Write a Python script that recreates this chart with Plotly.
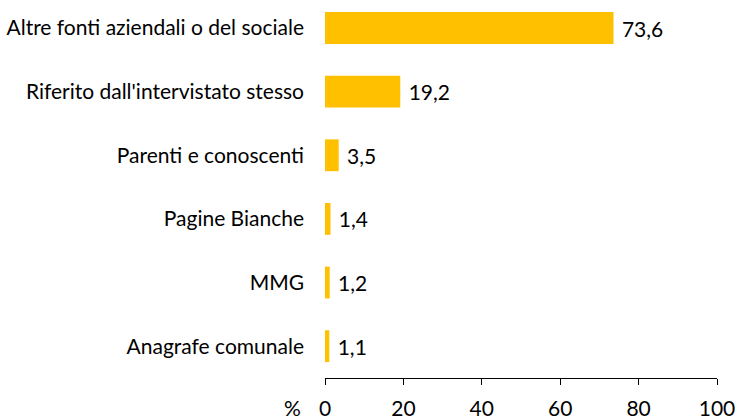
import plotly.graph_objects as go

categories = ["Anagrafe comunale", "MMG", "Pagine Bianche", "Parenti e conoscenti",
              "Riferito dall'intervistato stesso", "Altre fonti aziendali o del sociale"]
values = [1.1, 1.2, 1.4, 3.5, 19.2, 73.6]
x_ticks = [0, 20, 40, 60, 80, 100]

labels = [" " + f"{v:.1f}".replace(".", ",") for v in values]

FONT = "Lato"
FS = 21
fig = go.Figure(go.Bar(
    x=values, y=categories, orientation="h",
    marker=dict(color="#FFC000", line=dict(width=0)),
    width=0.5,
    text=labels, textposition="outside", cliponaxis=False,
    textfont=dict(family=FONT, size=FS, color="#000000"),
))
fig.update_layout(
    width=741, height=419,
    margin=dict(l=325, r=24, t=0, b=41, autoexpand=False),
    paper_bgcolor="white", plot_bgcolor="white",
    showlegend=False,
    font=dict(family=FONT, size=FS, color="#000000"),
    xaxis=dict(range=[0, 100], tickvals=x_ticks, ticks="outside", ticklen=6,
               tickcolor="#000000", showline=True, linecolor="#000000", linewidth=1,
               showgrid=False, zeroline=False, ticklabelstandoff=6, automargin=False,
               tickfont=dict(family=FONT, size=FS)),
    yaxis=dict(type="category", categoryorder="array", categoryarray=categories,
               range=[-0.5, 5.44], showline=False, showgrid=False, zeroline=False,
               ticks="", ticklabelstandoff=20, automargin=False,
               tickfont=dict(family=FONT, size=FS)),
)
fig.add_annotation(text="%", x=0, xref="x", xshift=-33, y=0, yref="paper", yshift=-29,
                   showarrow=False, font=dict(family=FONT, size=FS), xanchor="center",
                   yanchor="middle")
fig.write_html("out.html", config={"displayModeBar": False},
               post_script="document.body.style.margin='0';")
